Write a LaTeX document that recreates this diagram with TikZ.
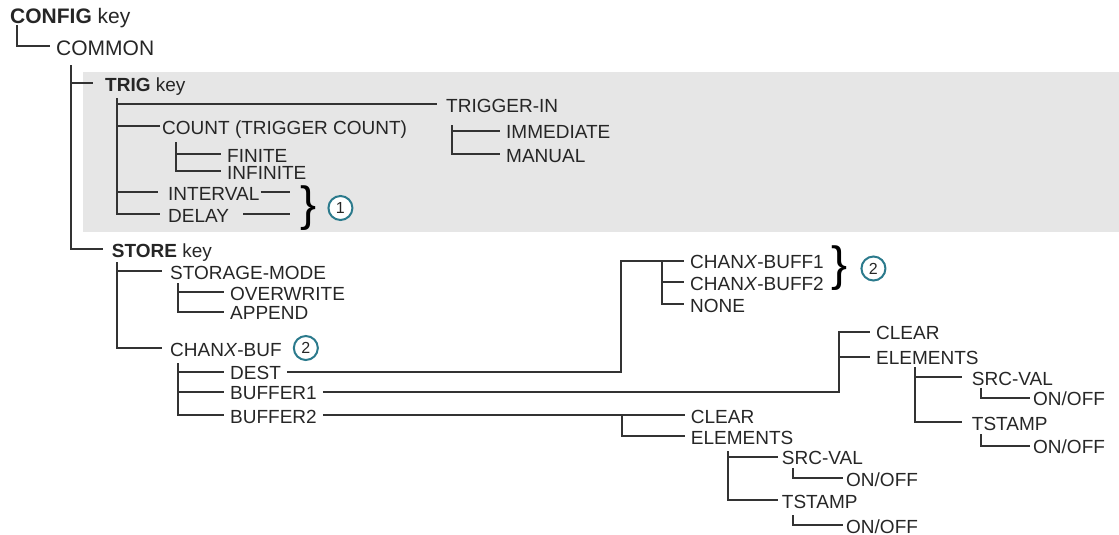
\documentclass[tikz,border=0pt]{standalone}
\usepackage{fontspec}
\setmainfont{Liberation Sans}
\usepackage{tikz}
\usetikzlibrary{positioning}
\definecolor{wirec}{HTML}{333333}
\definecolor{trigbg}{HTML}{E6E6E6}
\definecolor{tealc}{HTML}{2B7A8C}

\begin{document}
\begin{tikzpicture}[x=1pt, y=-1pt,
  lvl/.style={anchor=west, inner sep=0pt, text height=16.5pt, text depth=0pt, text=black!85, font=\fontsize{19}{21}\selectfont},
  lvlroot/.style={lvl, text height=20pt, font=\fontsize{21}{23}\selectfont},
  wire/.style={draw=wirec, line width=1.8pt, shorten >=6pt},
  numc/.style={circle, draw=tealc, line width=2pt, fill=white, minimum size=24pt, inner sep=0pt, text=black!85, font=\fontsize{16}{16}\selectfont},
  brc/.style={anchor=west, inner sep=0pt, text=black, font=\fontsize{48}{48}\selectfont}]
\useasboundingbox (0,0) rectangle (1119,535);
\fill[trigbg] (83,72) rectangle (1119,232);
% top of the tree
\node[lvlroot] (cfg) at (10,13.5) {\textbf{CONFIG} key};
\node[lvlroot] (common) at (56,46) {COMMON};
\node[lvl] (trig) at (105,83) {\textbf{TRIG} key};
\node[lvl] (store) at (111.7,249) {\textbf{STORE} key};
% TRIG key
\node[lvl] (trigin) at (446,104) {TRIGGER-IN};
\node[lvl] (immed) at (506,130.7) {IMMEDIATE};
\node[lvl] (manual) at (506,154) {MANUAL};
\node[lvl] (count) at (162,126) {COUNT (TRIGGER COUNT)};
\node[lvl] (finite) at (227,154) {FINITE};
\node[lvl] (infinite) at (227,171) {INFINITE};
\node[lvl] (interval) at (168,192) {INTERVAL};
\node[lvl] (delay) at (168,214) {DELAY};
\node[brc] (brace1) at (300,208) {\}};
\node[numc, right=11pt of brace1] (c1) {1};
% STORE key
\node[lvl] (stmode) at (170,271) {STORAGE-MODE};
\node[lvl] (overw) at (230,292) {OVERWRITE};
\node[lvl] (append) at (230,311.7) {APPEND};
\node[lvl] (chanbuf) at (170,348) {CHAN\textit{X}-BUF};
\node[numc, right=11pt of chanbuf] (c2) {2};
\node[lvl] (dest) at (230,371.7) {DEST};
\node[lvl] (buffer1) at (230,391.7) {BUFFER1};
\node[lvl] (buffer2) at (230,415) {BUFFER2};
\node[lvl] (bufa) at (690,260.7) {CHAN\textit{X}-BUFF1};
\node[lvl] (bufb) at (690,282.3) {CHAN\textit{X}-BUFF2};
\node[lvl] (none) at (690,304) {NONE};
\node[brc] (brace2) at (831,268.5) {\}};
\node[numc, right=13pt of brace2] (c3) {2};
\node[lvl] (clra) at (876,331.7) {CLEAR};
\node[lvl] (elema) at (876,356.7) {ELEMENTS};
\node[lvl] (srca) at (971.7,377.3) {SRC-VAL};
\node[lvl] (onoffa) at (1033,397.7) {ON/OFF};
\node[lvl] (tsa) at (971.7,422.3) {TSTAMP};
\node[lvl] (onoffb) at (1033,445.7) {ON/OFF};
\node[lvl] (clrb) at (690.7,415) {CLEAR};
\node[lvl] (elemb) at (690.7,436) {ELEMENTS};
\node[lvl] (srcb) at (781.7,456.7) {SRC-VAL};
\node[lvl] (onoffc) at (846,478.3) {ON/OFF};
\node[lvl] (tsb) at (781.7,500) {TSTAMP};
\node[lvl] (onoffd) at (846,525) {ON/OFF};
% connectors
\draw[wire] ([xshift=7pt,yshift=-1.5pt]cfg.south west) |- (common.west);
\draw[wire, shorten >=12pt] ([xshift=14.7pt,yshift=-9pt]common.south west) |- (trig.west);
\draw[wire, shorten >=9pt] ([xshift=14.7pt,yshift=-9pt]common.south west) |- (store.west);
\draw[wire, shorten >=9pt] ([xshift=12pt,yshift=-7pt]trig.south west) |- (trigin.west);
\draw[wire, shorten >=2pt] ([xshift=12pt,yshift=-7pt]trig.south west) |- (count.west);
\draw[wire, shorten >=10pt] ([xshift=12pt,yshift=-7pt]trig.south west) |- (interval.west);
\draw[wire, shorten >=8pt] ([xshift=12pt,yshift=-7pt]trig.south west) |- (delay.west);
\draw[wire] ([xshift=14pt,yshift=-8pt]count.south west) |- (finite.west);
\draw[wire] ([xshift=14pt,yshift=-8pt]count.south west) |- (infinite.west);
\draw[wire] ([xshift=6pt,yshift=-13pt]trigin.south west) |- (immed.west);
\draw[wire] ([xshift=6pt,yshift=-13pt]trigin.south west) |- (manual.west);
\draw[wire, shorten <=1pt, shorten >=10pt] (interval.east) -- (interval.east -| brace1.west);
\draw[wire, shorten <=14pt, shorten >=10pt] (delay.east) -- (delay.east -| brace1.west);
\draw[wire, shorten >=8pt] ([xshift=5pt,yshift=-5pt]store.south west) |- (stmode.west);
\draw[wire, shorten >=8pt] ([xshift=5pt,yshift=-5pt]store.south west) |- (chanbuf.west);
\draw[wire] ([xshift=8pt,yshift=-4pt]stmode.south west) |- (overw.west);
\draw[wire] ([xshift=8pt,yshift=-4pt]stmode.south west) |- (append.west);
\draw[wire] ([xshift=8pt,yshift=-7pt]chanbuf.south west) |- (dest.west);
\draw[wire] ([xshift=8pt,yshift=-7pt]chanbuf.south west) |- (buffer1.west);
\draw[wire] ([xshift=8pt,yshift=-7pt]chanbuf.south west) |- (buffer2.west);
\draw[wire, shorten <=6pt] (dest.east) -| ([xshift=-69.3pt]bufa.west) -- (bufa.west);
\draw[wire] ([xshift=-28.3pt]bufa.west) |- (bufb.west);
\draw[wire] ([xshift=-28.3pt]bufa.west) |- (none.west);
\draw[wire, shorten <=6pt] (buffer1.east) -| ([xshift=-37pt]clra.west) -- (clra.west);
\draw[wire] ([xshift=-37pt]elema.west) -- (elema.west);
\draw[wire, shorten >=10pt] ([xshift=39pt,yshift=-2pt]elema.south west) |- (srca.west);
\draw[wire, shorten >=10pt] ([xshift=39pt,yshift=-2pt]elema.south west) |- (tsa.west);
\draw[wire, shorten >=3pt] ([xshift=9.3pt,yshift=-2pt]srca.south west) |- (onoffa.west);
\draw[wire, shorten >=3pt] ([xshift=9.3pt,yshift=-3.5pt]tsa.south west) |- (onoffb.west);
\draw[wire, shorten <=6pt] (buffer2.east) -- (clrb.west);
\draw[wire] ([xshift=-69pt]clrb.west) |- (elemb.west);
\draw[wire, shorten >=4pt] ([xshift=37.6pt,yshift=-7pt]elemb.south west) |- (srcb.west);
\draw[wire, shorten >=4pt] ([xshift=37.6pt,yshift=-7pt]elemb.south west) |- (tsb.west);
\draw[wire, shorten >=3pt] ([xshift=11.6pt,yshift=-3pt]srcb.south west) |- (onoffc.west);
\draw[wire, shorten >=3pt] ([xshift=11.6pt,yshift=-7pt]tsb.south west) |- (onoffd.west);
\end{tikzpicture}
\end{document}
